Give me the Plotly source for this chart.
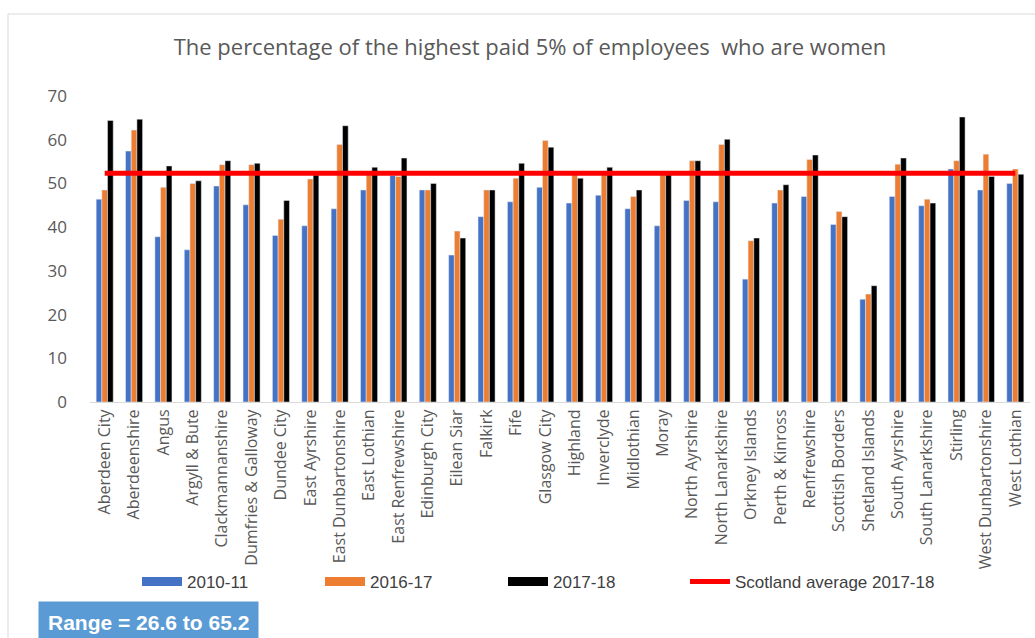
import plotly.graph_objects as go

categories = ["Aberdeen City", "Aberdeenshire", "Angus", "Argyll & Bute", "Clackmannanshire",
              "Dumfries & Galloway", "Dundee City", "East Ayrshire", "East Dunbartonshire",
              "East Lothian", "East Renfrewshire", "Edinburgh City", "Eilean Siar", "Falkirk",
              "Fife", "Glasgow City", "Highland", "Inverclyde", "Midlothian", "Moray",
              "North Ayrshire", "North Lanarkshire", "Orkney Islands", "Perth & Kinross",
              "Renfrewshire", "Scottish Borders", "Shetland Islands", "South Ayrshire",
              "South Lanarkshire", "Stirling", "West Dunbartonshire", "West Lothian"]

v2010 = [46.4, 57.4, 37.8, 34.8, 49.4, 45.1, 38.1, 40.3, 44.2, 48.5, 51.8, 48.5, 33.6, 42.4,
         45.8, 49.1, 45.5, 47.3, 44.2, 40.3, 46.1, 45.8, 28.1, 45.5, 47.0, 40.6, 23.5, 47.0,
         44.9, 53.3, 48.5, 50.0]
v2016 = [48.5, 62.2, 49.1, 50.0, 54.3, 54.3, 41.8, 51.0, 58.9, 52.0, 51.6, 48.5, 39.1, 48.5,
         51.2, 59.8, 52.0, 52.4, 47.0, 52.1, 55.2, 58.9, 36.9, 48.5, 55.5, 43.6, 24.7, 54.4,
         46.4, 55.2, 56.7, 53.3]
v2017 = [64.4, 64.7, 54.0, 50.6, 55.2, 54.6, 46.1, 51.9, 63.2, 53.7, 55.8, 50.0, 37.5, 48.5,
         54.6, 58.3, 51.2, 53.7, 48.5, 52.0, 55.2, 60.1, 37.5, 49.7, 56.5, 42.4, 26.6, 55.8,
         45.5, 65.2, 51.6, 52.1]
scotland_avg = 52.3
y_ticks = [0, 10, 20, 30, 40, 50, 60, 70]

series_names = ["2010-11", "2016-17", "2017-18"]
series_colors = ["#4472C4", "#ED7D31", "#000000"]
avg_name = "Scotland average 2017-18"

title_text = "The percentage of the highest paid 5% of employees  who are women"
range_text = "Range = 26.6 to 65.2"

fig = go.Figure()
for name, vals, col in zip(series_names, [v2010, v2016, v2017], series_colors):
    fig.add_trace(go.Bar(x=categories, y=vals, name=name, marker_color=col, showlegend=False))
fig.add_trace(go.Scatter(x=categories, y=[scotland_avg] * len(categories),
                         name=avg_name, mode="lines", showlegend=False,
                         line=dict(color="#FF0000", width=5)))
# legend entries (wide swatches like the original)
for name, col in zip(series_names, series_colors):
    fig.add_trace(go.Scatter(x=[None], y=[None], name=name, mode="lines",
                             line=dict(color=col, width=9), legend="legend"))
fig.add_trace(go.Scatter(x=[None], y=[None], name=avg_name, mode="lines",
                         line=dict(color="#FF0000", width=5), legend="legend2"))

W, H = 1035, 638
ml, mr, mt, mb = 90, 5, 96, 236
pw, ph = W - ml - mr, H - mt - mb

def px(x):
    return (x - ml) / pw

def py(y):
    return (H - mb - y) / ph

legend_font = dict(size=17, color="#404040", family="Liberation Sans, sans-serif")

fig.update_layout(
    width=W, height=H,
    margin=dict(l=ml, r=mr, t=mt, b=mb, pad=0),
    paper_bgcolor="white", plot_bgcolor="white",
    font=dict(family="Open Sans, Liberation Sans, sans-serif", color="#595959", size=14),
    barmode="group", bargap=0.42, bargroupgap=0.0,
    title=dict(text=title_text, x=530 / W, xanchor="center", y=1 - 47 / H, yanchor="middle",
               font=dict(size=22, color="#595959")),
    showlegend=True,
    legend=dict(orientation="h", x=px(137), xanchor="left", y=py(582), yanchor="middle",
                font=legend_font, entrywidth=128, entrywidthmode="pixels",
                bgcolor="rgba(0,0,0,0)", traceorder="normal", itemwidth=40),
    legend2=dict(orientation="h", x=px(685), xanchor="left", y=py(582), yanchor="middle",
                 font=legend_font, bgcolor="rgba(0,0,0,0)", itemwidth=40),
    xaxis=dict(tickangle=-90, showline=True, linecolor="#D9D9D9", linewidth=1,
               ticks="", showgrid=False, tickfont=dict(size=16, color="#595959"),
               range=[-0.5, len(categories) - 0.5]),
    yaxis=dict(range=[0, 70], tickvals=y_ticks, showgrid=False, zeroline=False,
               showline=False, ticks="", ticklabelstandoff=22,
               tickfont=dict(size=17, color="#595959")),
    shapes=[dict(type="rect", xref="paper", yref="paper",
                 x0=px(8), x1=px(1040), y0=py(660), y1=py(14),
                 line=dict(color="#D9D9D9", width=1), fillcolor="rgba(0,0,0,0)", layer="below")],
    annotations=[dict(text="<b>" + range_text + "</b>", xref="paper", yref="paper",
                      x=px(38), xanchor="left", y=py(622), yanchor="middle", showarrow=False,
                      font=dict(size=21, color="white", family="Liberation Sans, sans-serif"),
                      bgcolor="#5B9BD5", borderpad=9)],
)

fig.write_html("out.html")
